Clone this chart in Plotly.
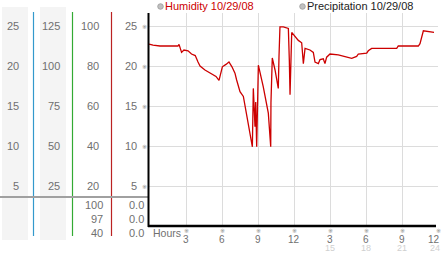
import plotly.graph_objects as go

# ---- data ----
hours = [-0.08, 0.25, 0.83, 1.67, 2.33, 2.42, 2.63, 2.83, 3.17, 3.46, 3.77, 4.0,
         4.17, 4.58, 5.0, 5.5, 5.75, 6.03, 6.33, 6.58, 6.83, 7.08, 7.22, 7.36,
         7.5, 7.78, 8.06, 8.33, 8.53, 8.61, 8.75, 8.81, 8.89, 9.03, 9.44, 9.86,
         10.06, 10.08, 10.19, 10.42, 10.69, 10.75, 10.83, 11.11, 11.53, 11.61,
         11.67, 11.81, 12.08, 12.36, 12.64, 12.78, 12.92, 13.33, 13.61, 13.75,
         14.03, 14.17, 14.44, 14.58, 14.72, 15.0, 15.69, 15.97, 16.53, 16.81,
         17.22, 17.36, 18.06, 18.19, 18.47, 18.72, 20.56, 20.69, 22.36, 22.5,
         22.78, 23.67]
humidity = [22.75, 22.6, 22.5, 22.5, 22.5, 22.7, 21.7, 22.0, 21.9, 21.5, 21.3,
            20.5, 20.0, 19.5, 19.1, 18.7, 18.2, 19.9, 20.2, 20.5, 19.9, 19.1,
            18.25, 17.4, 16.8, 16.2, 13.7, 11.6, 9.9, 17.2, 12.4, 15.5, 9.9,
            20.1, 17.4, 14.1, 9.9, 15.4, 21.0, 19.5, 17.2, 21.2, 24.9, 24.9,
            24.7, 20.75, 16.4, 24.2, 23.7, 23.2, 22.9, 20.3, 22.2, 22.0, 21.7,
            20.5, 20.3, 20.8, 20.9, 20.3, 21.1, 21.5, 21.4, 21.3, 21.1, 20.96,
            21.2, 21.5, 21.6, 21.9, 22.2, 22.2, 22.2, 22.5, 22.5, 22.8, 24.4,
            24.2]

y_ticks = [25, 20, 15, 10, 5]
col1_labels = ["25", "20", "15", "10", "5"]
col2_labels = ["125", "100", "75", "50", "25"]
col3_labels = ["100", "80", "60", "40", "20"]
col4_labels = ["25", "20", "15", "10", "5"]
bottom_col3 = ["100", "97", "40"]
bottom_col4 = ["0.0", "0.0", "0.0"]
x_ticks = [3, 6, 9, 12, 15, 18, 21, 24]
x_tick_labels = ["3", "6", "9", "12", "3", "6", "9", "12"]
x_tick_labels2 = ["", "", "", "", "15", "18", "21", "24"]
legend_items = ["Humidity 10/29/08", "Precipitation 10/29/08"]

W, H = 442, 253
def px(x):
    return x / W
def py(y):
    return 1 - y / H

FONT = "Liberation Sans, Arial, sans-serif"
GRAY = "#707070"

fig = go.Figure()
fig.add_trace(go.Scatter(x=hours, y=humidity, mode="lines",
                         line=dict(color="#cc0000", width=1.3),
                         showlegend=False, hoverinfo="skip"))

shapes = []
# gray column backgrounds
for x0, x1 in [(2, 28), (40, 66)]:
    shapes.append(dict(type="rect", xref="paper", yref="paper",
                       x0=px(x0), x1=px(x1), y0=py(240), y1=py(7),
                       fillcolor="#f4f4f4", line=dict(width=0), layer="below"))
# coloured vertical separators
for x, c in [(33.5, "#3399cc"), (72.5, "#33aa33"), (111.5, "#bb2222")]:
    shapes.append(dict(type="line", xref="paper", yref="paper",
                       x0=px(x), x1=px(x), y0=py(12), y1=py(236),
                       line=dict(color=c, width=1.2)))
# horizontal gray separator
shapes.append(dict(type="line", xref="paper", yref="paper",
                   x0=0, x1=px(149), y0=py(197), y1=py(197),
                   line=dict(color="#a0a0a0", width=2)))
# black axes
shapes.append(dict(type="line", xref="paper", yref="paper",
                   x0=px(148.5), x1=px(148.5), y0=py(13), y1=py(227),
                   line=dict(color="black", width=2)))
shapes.append(dict(type="line", xref="paper", yref="paper",
                   x0=px(148), x1=px(436), y0=py(226), y1=py(226),
                   line=dict(color="black", width=2.5)))
# legend circles
for cx in [160.5, 302.5]:
    shapes.append(dict(type="circle", xref="paper", yref="paper",
                       x0=px(cx - 2.8), x1=px(cx + 2.8), y0=py(3.7), y1=py(9.3),
                       fillcolor="#c0c0c0", line=dict(color="#999999", width=0.8)))

ann = []
def label(text, x, y, xref="paper", yref="paper", anchor="right", color=GRAY,
          size=11, family=FONT):
    ann.append(dict(text=text, x=x, y=y, xref=xref, yref=yref, xanchor=anchor,
                    yanchor="middle", showarrow=False, borderpad=0,
                    font=dict(family=family, size=size, color=color)))

for v, a, b, c, d in zip(y_ticks, col1_labels, col2_labels, col3_labels, col4_labels):
    label(a, px(20), v, yref="y")
    label(b, px(61), v, yref="y")
    label(c, px(100), v, yref="y")
    label(d, px(138), v, yref="y")
    label("※", px(144.5), v, yref="y", anchor="center", color="#8a8a8a", size=6,
          family="DejaVu Sans")

for i, (a, b) in enumerate(zip(bottom_col3, bottom_col4)):
    yy = 204.5 + 14 * i
    label(a, px(104), py(yy))
    label(b, px(145), py(yy))

for xv, t1, t2 in zip(x_ticks, x_tick_labels, x_tick_labels2):
    last = xv == x_ticks[-1]
    xx = px(441) if last else xv
    xr = "paper" if last else "x"
    an = "right" if last else "center"
    label("※", xv, py(230), xref="x", anchor="center", color="#8a8a8a", size=6,
          family="DejaVu Sans")
    label(t1, xx, py(239), xref=xr, anchor=an, size=10)
    if t2:
        label(t2, xx, py(247.5), xref=xr, anchor=an, color="#d0d0d0", size=9)
label("Hours", px(152), py(232.5), anchor="left", size=10.5)

label(legend_items[0], px(164), py(6.5), anchor="left", color="#cc0000")
label(legend_items[1], px(306), py(6.5), anchor="left", color="#222222")

fig.update_layout(
    width=W, height=H, margin=dict(l=0, r=0, t=0, b=0),
    paper_bgcolor="white", plot_bgcolor="white",
    shapes=shapes, annotations=ann, showlegend=False,
    xaxis=dict(domain=[px(149), px(438)], range=[-0.083, 24.0],
               tickvals=x_ticks, showticklabels=False, showgrid=True,
               gridcolor="#dcdcdc", gridwidth=1, zeroline=False, showline=False,
               fixedrange=True),
    yaxis=dict(domain=[py(226), py(13)], range=[0, 26.625],
               tickvals=y_ticks, showticklabels=False, showgrid=True,
               gridcolor="#dcdcdc", gridwidth=1, zeroline=False, showline=False,
               fixedrange=True),
)

fig.write_html("out.html", config={"displayModeBar": False})
